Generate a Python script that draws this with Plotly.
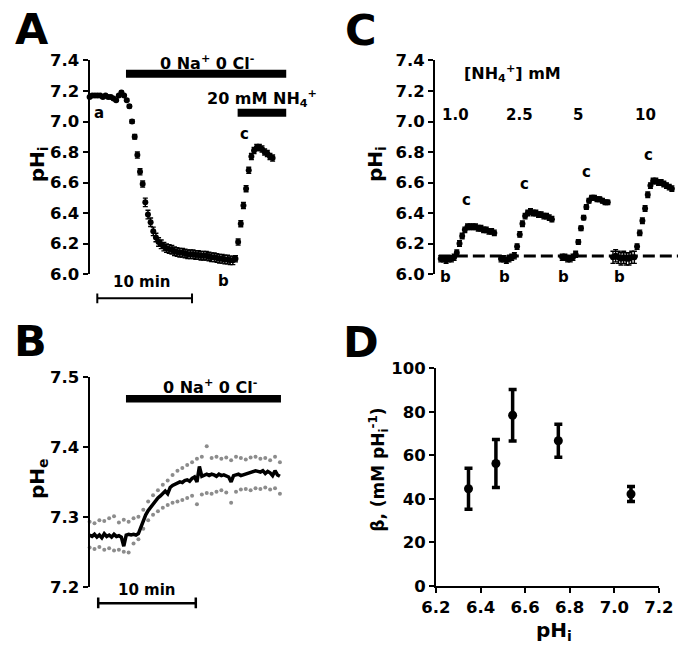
import plotly.graph_objects as go

W, H = 693, 656
FONT = "DejaVu Sans"

# ---------------- Panel A: pHi time course (min) ----------------
a_dt = 0.28
a_ph = [7.16, 7.17, 7.17, 7.17, 7.17, 7.16, 7.17, 7.16, 7.16, 7.15,
        7.14, 7.17, 7.19, 7.17, 7.14, 7.10, 7.00, 6.90, 6.78, 6.67,
        6.59, 6.47, 6.39, 6.34, 6.28, 6.24, 6.21, 6.195, 6.18, 6.17,
        6.165, 6.16, 6.15, 6.145, 6.14, 6.14, 6.135, 6.13, 6.13, 6.13,
        6.125, 6.125, 6.12, 6.12, 6.12, 6.115, 6.11, 6.11, 6.105, 6.10,
        6.10, 6.095, 6.095, 6.09, 6.09, 6.10, 6.21, 6.33, 6.45, 6.56,
        6.68, 6.77, 6.81, 6.83, 6.83, 6.82, 6.80, 6.79, 6.77, 6.76]
a_err = [0.006] * 10 + \
        [0.006, 0.006, 0.008, 0.006, 0.008, 0.01, 0.012, 0.015, 0.02, 0.02] + \
        [0.02] + [0.028] * 29 + \
        [0.028, 0.028, 0.028, 0.028, 0.028, 0.02, 0.02, 0.02, 0.02, 0.02] + \
        [0.02] * 10
a_time = [i * a_dt for i in range(len(a_ph))]

# ---------------- Panel C: NH4+ pulses ----------------
c_dt = 0.28
c_starts = [0.6, 6.9, 13.3, 18.6]
c_ph = [
    [6.10, 6.10, 6.09, 6.10, 6.10, 6.11, 6.14, 6.20, 6.25, 6.29, 6.31,
     6.31, 6.31, 6.31, 6.30, 6.30, 6.29, 6.29, 6.28, 6.28, 6.27],
    [6.10, 6.10, 6.09, 6.10, 6.11, 6.12, 6.18, 6.26, 6.33, 6.38, 6.40,
     6.41, 6.40, 6.40, 6.39, 6.39, 6.38, 6.38, 6.37, 6.36],
    [6.11, 6.11, 6.10, 6.10, 6.11, 6.13, 6.21, 6.30, 6.37, 6.44, 6.48,
     6.50, 6.50, 6.49, 6.49, 6.48, 6.47, 6.47],
    [6.11, 6.12, 6.11, 6.10, 6.11, 6.10, 6.10, 6.11, 6.11, 6.18, 6.27,
     6.35, 6.43, 6.52, 6.58, 6.61, 6.61, 6.60, 6.60, 6.59, 6.58, 6.57, 6.56],
]
c_err = [
    [0.02] * 6 + [0.018] * 15,
    [0.02] * 6 + [0.018] * 14,
    [0.02] * 6 + [0.015] * 12,
    [0.04] * 9 + [0.018] * 14,
]
c_conc_labels = ["1.0", "2.5", "5", "10"]
c_baseline = 6.118

# ---------------- Panel B: pHe ----------------
b_dt = 0.25
b_mean = [7.274, 7.272, 7.275, 7.271, 7.274, 7.270, 7.276, 7.272, 7.274, 7.271,
          7.275, 7.272, 7.273, 7.271, 7.258, 7.274, 7.275, 7.274, 7.275, 7.274,
          7.276, 7.285, 7.297, 7.303, 7.309, 7.314, 7.318, 7.322, 7.327, 7.330,
          7.334, 7.337, 7.333, 7.342, 7.345, 7.347, 7.349, 7.350, 7.349, 7.352,
          7.353, 7.351, 7.355, 7.357, 7.350, 7.372, 7.358, 7.360, 7.361, 7.359,
          7.361, 7.360, 7.358, 7.361, 7.359, 7.360, 7.358, 7.357, 7.350, 7.359,
          7.360, 7.361, 7.359, 7.360, 7.362, 7.363, 7.364, 7.365, 7.366, 7.365,
          7.364, 7.366, 7.362, 7.365, 7.363, 7.359, 7.366, 7.360, 7.358]
b_time = [i * b_dt for i in range(len(b_mean))]
b_sd_dt = 0.5
b_upper = [7.293, 7.291, 7.295, 7.294, 7.298, 7.301, 7.292, 7.296, 7.293, 7.298,
           7.300, 7.310, 7.322, 7.331, 7.338, 7.346, 7.352, 7.360, 7.366, 7.370,
           7.374, 7.378, 7.383, 7.386, 7.401, 7.384, 7.386, 7.383, 7.385, 7.381,
           7.386, 7.384, 7.382, 7.385, 7.386, 7.383, 7.384, 7.381, 7.386, 7.378]
b_lower = [7.256, 7.254, 7.257, 7.253, 7.255, 7.252, 7.253, 7.250, 7.249, 7.262,
           7.268, 7.283, 7.295, 7.303, 7.308, 7.313, 7.317, 7.320, 7.322, 7.324,
           7.327, 7.330, 7.318, 7.332, 7.334, 7.333, 7.336, 7.338, 7.335, 7.320,
           7.336, 7.339, 7.340, 7.338, 7.341, 7.340, 7.342, 7.339, 7.341, 7.333]
b_sd_time = [i * b_sd_dt for i in range(len(b_upper))]

# ---------------- Panel D: buffering capacity ----------------
d_phi = [6.346, 6.469, 6.544, 6.749, 7.075]
d_beta = [44.6, 56.2, 78.4, 66.7, 42.2]
d_err = [9.4, 11.0, 11.8, 7.6, 3.4]


def px(x):
    return x / W


def py(y):
    return 1 - y / H


fig = go.Figure()

# A
fig.add_trace(go.Scatter(
    x=a_time, y=a_ph, mode="markers", xaxis="x", yaxis="y",
    marker=dict(color="black", size=6),
    error_y=dict(type="data", array=a_err, color="black", thickness=1.4, width=2.5),
    cliponaxis=False, showlegend=False))

# C
for s, vals, errs in zip(c_starts, c_ph, c_err):
    fig.add_trace(go.Scatter(
        x=[s + i * c_dt for i in range(len(vals))], y=vals, mode="markers",
        xaxis="x2", yaxis="y2", marker=dict(color="black", size=6),
        error_y=dict(type="data", array=errs, color="black", thickness=1.4, width=2.5),
        cliponaxis=False, showlegend=False))

# B
fig.add_trace(go.Scatter(
    x=b_sd_time, y=b_upper, mode="markers", xaxis="x3", yaxis="y3",
    marker=dict(color="#8c8c8c", size=4), cliponaxis=False, showlegend=False))
fig.add_trace(go.Scatter(
    x=b_sd_time, y=b_lower, mode="markers", xaxis="x3", yaxis="y3",
    marker=dict(color="#8c8c8c", size=4), cliponaxis=False, showlegend=False))
fig.add_trace(go.Scatter(
    x=b_time, y=b_mean, mode="lines", xaxis="x3", yaxis="y3",
    line=dict(color="black", width=3.5), showlegend=False))

# D
fig.add_trace(go.Scatter(
    x=d_phi, y=d_beta, mode="markers", xaxis="x4", yaxis="y4",
    marker=dict(color="black", size=9),
    error_y=dict(type="data", array=d_err, color="black", thickness=3.5, width=4),
    cliponaxis=False, showlegend=False))

tickfont = dict(family=FONT, size=16.5, color="black", weight="bold")
yax = dict(showline=True, linecolor="black", linewidth=2, ticks="outside",
           ticklen=5, tickwidth=2, tickcolor="black", showgrid=False,
           zeroline=False, tickfont=tickfont)
hidden_x = dict(visible=False, showgrid=False, zeroline=False)

fig.update_layout(
    width=W, height=H, autosize=False,
    margin=dict(l=0, r=0, t=0, b=0),
    paper_bgcolor="white", plot_bgcolor="white",
    xaxis=dict(hidden_x, domain=[px(78), px(290)], range=[0, 212 / 9.9], anchor="y"),
    yaxis=dict(yax, domain=[py(273), py(53)], range=[6.0, 7.4], anchor="x",
               tick0=6.0, dtick=0.2, tickformat=".1f"),
    xaxis2=dict(hidden_x, domain=[px(439), 1.0], range=[0, 25.4], anchor="y2"),
    yaxis2=dict(yax, domain=[py(273), py(53)], range=[6.0, 7.4], anchor="x2",
                tick0=6.0, dtick=0.2, tickformat=".1f"),
    xaxis3=dict(hidden_x, domain=[px(78), px(290)], range=[0, 212 / 10.2], anchor="y3"),
    yaxis3=dict(yax, domain=[py(595), py(379)], range=[7.2, 7.5], anchor="x3",
                tick0=7.2, dtick=0.1, tickformat=".1f"),
    xaxis4=dict(yax, domain=[px(440), px(673)], range=[6.2, 7.2], anchor="y4",
                tick0=6.2, dtick=0.2, tickformat=".1f"),
    yaxis4=dict(yax, domain=[py(594), py(370)], range=[0, 100], anchor="x4",
                tick0=0, dtick=20),
)

shapes = []
# A: stimulus bars
shapes.append(dict(type="line", xref="x", yref="y", x0=(116 - 78) / 9.9, x1=(283.5 - 78) / 9.9,
                   y0=7.313, y1=7.313, line=dict(color="black", width=8)))
shapes.append(dict(type="line", xref="x", yref="y", x0=(232.7 - 78) / 9.9, x1=(283.5 - 78) / 9.9,
                   y0=7.058, y1=7.058, line=dict(color="black", width=8)))
# A: 10 min scale bar
for x0, x1, y0, y1 in [(0.81, 10.81, py(298), py(298)),
                       (0.81, 0.81, py(293), py(303)),
                       (10.81, 10.81, py(293), py(303))]:
    shapes.append(dict(type="line", xref="x", yref="paper", x0=x0, x1=x1, y0=y0, y1=y1,
                       line=dict(color="black", width=2)))
# C: dashed baseline
shapes.append(dict(type="line", xref="x2", yref="y2", x0=0.4, x1=25.4,
                   y0=c_baseline, y1=c_baseline,
                   line=dict(color="black", width=3, dash="12px,5px")))
# B: stimulus bar
shapes.append(dict(type="line", xref="x3", yref="y3", x0=(116 - 78) / 10.2, x1=(278 - 78) / 10.2,
                   y0=7.469, y1=7.469, line=dict(color="black", width=7.5)))
# B: scale bar
for x0, x1, y0, y1 in [(0.88, 10.88, py(612), py(612)),
                       (0.88, 0.88, py(606), py(617)),
                       (10.88, 10.88, py(606), py(617))]:
    shapes.append(dict(type="line", xref="x3", yref="paper", x0=x0, x1=x1, y0=y0, y1=y1,
                       line=dict(color="black", width=2.5)))
fig.update_layout(shapes=shapes)

ann = []


def add(text, x, y, xref="paper", yref="paper", size=15, angle=0, xanchor="center"):
    ann.append(dict(text=text, x=x, y=y, xref=xref, yref=yref, showarrow=False,
                    xanchor=xanchor, yanchor="middle", textangle=angle,
                    font=dict(family=FONT, size=size, color="black", weight="bold")))


# panel letters
add("A", px(18), py(21), size=43)
add("C", px(362), py(22), size=43)
add("B", px(16), py(342), size=43)
add("D", px(362), py(343), size=43)

# axis titles
add("pH<sub>i</sub>", px(24), py(160), size=20, angle=-90)
add("pH<sub>i</sub>", px(378), py(160), size=20, angle=-90)
add("pH<sub>e</sub>", px(24), py(483), size=20, angle=-90)
add("β, (mM pH<sub>i</sub><sup>-1</sup>)", px(380), py(475), size=17, angle=-90)
add("pH<sub>i</sub>", px(563), py(641), size=20)

# A annotations
add("0 Na<sup>+</sup> 0 Cl<sup>-</sup>", (201 - 78) / 9.9, 7.386, xref="x", yref="y", size=16)
add("20 mM NH<sub>4</sub><sup>+</sup>", (199 - 78) / 9.9, 7.15, xref="x", yref="y", size=16, xanchor="left")
add("a", 1.0, 7.056, xref="x", yref="y", size=15)
add("c", 16.4, 6.92, xref="x", yref="y", size=15)
add("b", (218 - 78) / 9.9, py(280), xref="x", yref="paper", size=15)
add("10 min", (133 - 78) / 9.9, py(281), xref="x", yref="paper", size=15)

# C annotations
add("[NH<sub>4</sub><sup>+</sup>] mM", (520 - 439) / 10, 7.315, xref="x2", yref="y2", size=16)
for lab, xp in zip(c_conc_labels, [460, 527, 588, 659]):
    add(lab, (xp - 439) / 10, 7.045, xref="x2", yref="y2", size=15)
for (xp, yv) in [(472, 6.483), (533, 6.59), (597, 6.668), (662, 6.782)]:
    add("c", (xp - 439) / 10, yv, xref="x2", yref="y2", size=15)
for xp in [450, 512, 573, 632]:
    add("b", (xp - 439) / 10, py(276), xref="x2", yref="paper", size=15)

# B annotations
add("0 Na<sup>+</sup> 0 Cl<sup>-</sup>", (204 - 78) / 10.2, 7.486, xref="x3", yref="y3", size=16)
add("10 min", (138 - 78) / 10.2, py(598), xref="x3", yref="paper", size=15)

fig.update_layout(annotations=ann)

fig.write_html("out.html", config={"displayModeBar": False},
               post_script="document.body.style.margin='0';document.body.style.padding='0';")
